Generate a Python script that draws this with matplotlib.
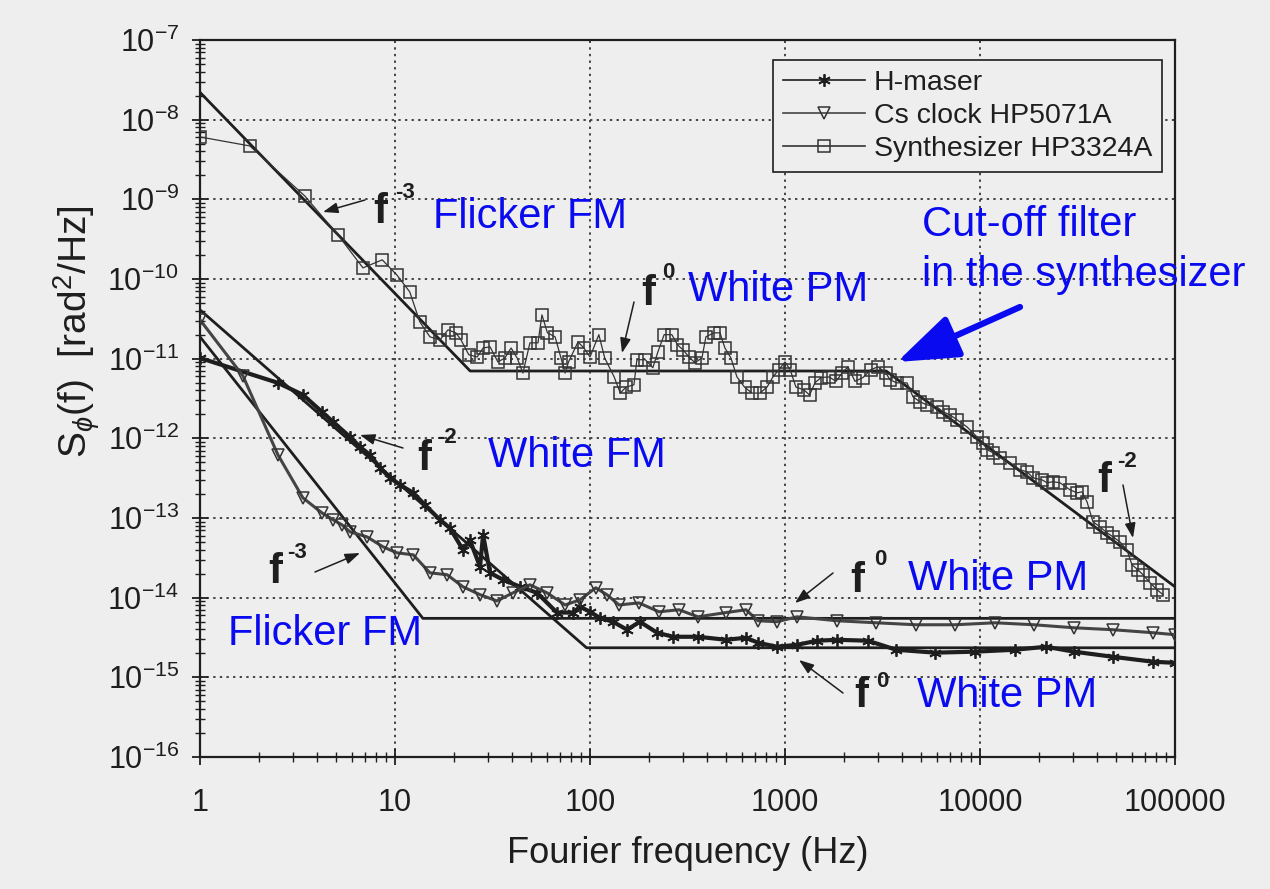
import matplotlib
matplotlib.use("Agg")
import matplotlib.pyplot as plt
from matplotlib.ticker import LogLocator, FixedLocator, FixedFormatter, NullFormatter

plt.rcParams['font.family'] = ['Liberation Sans', 'DejaVu Sans']
plt.rcParams['mathtext.fontset'] = 'custom'
plt.rcParams['mathtext.rm'] = 'Liberation Sans'
plt.rcParams['mathtext.it'] = 'Liberation Sans:italic'
plt.rcParams['mathtext.bf'] = 'Liberation Sans:bold'
plt.rcParams['axes.unicode_minus'] = False

# ---------------- data ----------------
hm_f = [1, 2.51, 3.37, 4.22, 4.81, 5.88, 6.62, 7.44, 8.38, 9.43, 10.6, 12.4, 14.2, 17.0,
        19.1, 22.3, 24.2, 27.3, 28.3, 30.7, 35.8, 43.8, 53.5, 67.7, 81.8, 88.9, 100, 112,
        131, 155, 180, 221, 267, 358, 498, 631, 727, 910, 1153, 1459, 1849, 2667, 3710,
        5876, 9419, 15100, 21800, 30300, 48100, 77100, 100000]
hm_s = [1.02e-11, 4.97e-12, 3.52e-12, 2.15e-12, 1.61e-12, 1.04e-12, 7.8e-13, 6.2e-13,
        4.27e-13, 3.19e-13, 2.61e-13, 2.07e-13, 1.47e-13, 9.5e-14, 7.5e-14, 4.0e-14,
        5.3e-14, 2.44e-14, 6.2e-14, 2.05e-14, 1.68e-14, 1.37e-14, 1.15e-14, 6.5e-15,
        6.5e-15, 7.7e-15, 6.65e-15, 5.6e-15, 4.99e-15, 3.96e-15, 4.99e-15, 3.63e-15,
        3.23e-15, 3.23e-15, 2.96e-15, 3.14e-15, 2.72e-15, 2.42e-15, 2.56e-15, 2.88e-15,
        2.96e-15, 2.88e-15, 2.22e-15, 2.04e-15, 2.1e-15, 2.22e-15, 2.42e-15, 2.1e-15,
        1.81e-15, 1.57e-15, 1.52e-15]

cs_f = [1, 1.66, 2.51, 3.37, 4.22, 4.81, 5.35, 5.88, 7.18, 8.68, 10.2, 12.4, 15.1, 18.5,
        22.3, 27.3, 33.3, 40.3, 49.2, 60.2, 74.5, 88.9, 107, 122, 141, 178, 226, 286,
        358, 498, 631, 727, 910, 1153, 1849, 2930, 4700, 7450, 11940, 18900, 30300,
        48100, 77100, 100000]
cs_s = [3.07e-11, 6.08e-12, 6.2e-13, 1.79e-13, 1.16e-13, 9.5e-14, 8.2e-14, 6.7e-14,
        5.8e-14, 4.35e-14, 3.66e-14, 3.45e-14, 2.05e-14, 1.94e-14, 1.37e-14, 1.09e-14,
        9.1e-15, 1.15e-14, 1.45e-14, 1.15e-14, 8.1e-15, 9.4e-15, 1.33e-14, 1.09e-14,
        8.1e-15, 8.6e-15, 6.65e-15, 7.05e-15, 5.75e-15, 6.5e-15, 7.05e-15, 5.13e-15,
        4.99e-15, 5.75e-15, 5.13e-15, 4.84e-15, 4.57e-15, 4.57e-15, 4.84e-15, 4.57e-15,
        4.19e-15, 3.96e-15, 3.63e-15, 3.43e-15]

sy_f = [1, 1.8, 3.45, 5.1, 6.85, 8.6, 10.2, 11.9, 13.4, 15.1, 17.0, 18.7, 20.5, 21.8,
        23.9, 26.4, 28.3, 30.7, 33.7, 36.6, 39.4, 42.3, 45.3, 49.2, 54.1, 56.7, 60.5,
        66.2, 71, 74.5, 77.6, 86.8, 93.1, 100, 111, 119, 133, 143, 153, 168, 174, 192,
        210, 223, 240, 263, 281, 300, 322, 345, 375, 393, 432, 464, 492, 528, 567, 620,
        677, 744, 809, 867, 931, 1000, 1062, 1138, 1250, 1336, 1426, 1531, 1682, 1828,
        1960, 2104, 2285, 2513, 2761, 3000, 3297, 3454, 3750, 4223, 4533, 4924, 5350,
        6016, 6457, 7015, 7620, 8579, 9660, 10360, 10860, 11660, 12670, 14260, 16040,
        17420, 18700, 20800, 22080, 23670, 25700, 28940, 31420, 33340, 35380, 37950,
        41220, 44770, 48060, 52190, 56680, 60150, 64570, 68520, 74420, 80830, 86750]
sy_s = [6.07e-9, 4.68e-9, 1.1e-9, 3.57e-10, 1.38e-10, 1.74e-10, 1.13e-10, 6.9e-11,
        2.9e-11, 1.88e-11, 1.72e-11, 2.3e-11, 2.11e-11, 1.72e-11, 1.12e-11, 1.05e-11,
        1.36e-11, 1.41e-11, 9.1e-12, 1.02e-11, 1.36e-11, 1.02e-11, 6.6e-12, 1.58e-11,
        1.58e-11, 3.55e-11, 2.11e-11, 1.88e-11, 1.02e-11, 6.6e-12, 9.1e-12, 1.62e-11,
        1.36e-11, 1.05e-11, 2.0e-11, 1.02e-11, 5.9e-12, 3.7e-12, 4.4e-12, 4.7e-12,
        9.7e-12, 9.7e-12, 7.7e-12, 1.22e-11, 2.0e-11, 2.0e-11, 1.49e-11, 1.29e-11,
        1.05e-11, 8.9e-12, 1.02e-11, 1.88e-11, 2.11e-11, 2.11e-11, 1.36e-11, 1.02e-11,
        5.9e-12, 4.4e-12, 3.7e-12, 3.7e-12, 4.4e-12, 5.9e-12, 7.3e-12, 9.1e-12, 7.3e-12,
        4.4e-12, 4.06e-12, 3.5e-12, 5.0e-12, 5.8e-12, 5.9e-12, 5.2e-12, 6.6e-12, 7.9e-12,
        5.2e-12, 5.8e-12, 7.3e-12, 7.9e-12, 6.6e-12, 5.42e-12, 4.97e-12, 4.97e-12,
        3.32e-12, 2.87e-12, 2.63e-12, 2.48e-12, 2.15e-12, 1.97e-12, 1.71e-12, 1.39e-12,
        1.04e-12, 8.8e-13, 7.2e-13, 6.6e-13, 5.7e-13, 4.93e-13, 4.03e-13, 3.8e-13,
        3.19e-13, 3.01e-13, 2.77e-13, 2.85e-13, 2.77e-13, 2.26e-13, 2.07e-13, 2.13e-13,
        1.6e-13, 8.95e-14, 7.76e-14, 6.52e-14, 5.81e-14, 5.02e-14, 3.99e-14, 2.59e-14,
        2.24e-14, 1.94e-14, 1.54e-14, 1.26e-14, 1.09e-14]

# model (fit) lines: corner points
hm_fit_f = [1, 96, 100000]
hm_fit_s = [4.1e-11, 2.35e-15, 2.35e-15]
cs_fit_f = [1, 13.9, 100000]
cs_fit_s = [1.88e-11, 5.5e-15, 5.5e-15]
sy_fit_f = [1, 24.3, 3300, 100000]
sy_fit_s = [2.2e-8, 7.0e-12, 7.0e-12, 1.37e-14]

x_ticks = [1, 10, 100, 1000, 10000, 100000]
x_labels = ['1', '10', '100', '1000', '10000', '100000']
series_names = ['H-maser', 'Cs clock HP5071A', 'Synthesizer HP3324A']

# ---------------- figure ----------------
W, H = 1270, 889
BG = '#eeeeee'
INK = '#1e1e1e'
BLUE = '#0a0af0'

fig = plt.figure(figsize=(W / 100, H / 100), dpi=100, facecolor=BG)
ax = fig.add_axes([200 / W, 1 - 757 / H, 975 / W, 717 / H], facecolor=BG)
ax.set_xscale('log')
ax.set_yscale('log')
ax.set_xlim(1, 1e5)
ax.set_ylim(1e-16, 1e-7)

# fits
for ff, ss in [(hm_fit_f, hm_fit_s), (cs_fit_f, cs_fit_s), (sy_fit_f, sy_fit_s)]:
    ax.plot(ff, ss, color=INK, lw=2.0, zorder=3)

# data
l1, = ax.plot(hm_f, hm_s, color=INK, lw=3.0, marker=(6, 2, 0), ms=9, mew=1.3,
              mec=INK, zorder=4)
l2, = ax.plot(cs_f, cs_s, color='#444444', lw=2.2, marker='v', ms=8, mew=1.1,
              mfc='none', mec='#333333', zorder=4)
l3, = ax.plot(sy_f, sy_s, color='#333333', lw=0.9, marker='s', ms=8.5, mew=1.1,
              mfc='none', mec='#333333', zorder=4)

# grid & ticks
ax.grid(True, which='major', color='#444444', ls=(0, (1.2, 2.2)), lw=1.4)
ax.xaxis.set_major_locator(FixedLocator(x_ticks))
ax.xaxis.set_major_formatter(FixedFormatter(x_labels))
ax.xaxis.set_minor_locator(LogLocator(base=10, subs=range(2, 10), numticks=20))
ax.xaxis.set_minor_formatter(NullFormatter())
ax.yaxis.set_major_locator(LogLocator(base=10, numticks=20))
ax.yaxis.set_minor_locator(LogLocator(base=10, subs=range(2, 10), numticks=20))
ax.yaxis.set_minor_formatter(NullFormatter())
ax.tick_params(which='major', direction='inout', length=12, width=1.3, color=INK,
               labelsize=22, labelcolor=INK, pad=16)
ax.tick_params(axis='y', which='major', pad=9)
ax.tick_params(which='minor', direction='inout', length=7, width=1.0, color=INK)
for sp in ax.spines.values():
    sp.set_linewidth(1.6)
    sp.set_color(INK)

ax.set_xlabel('Fourier frequency (Hz)', fontsize=26, color=INK, labelpad=13)
ax.set_ylabel(r'S$_\phi$(f)  [rad$^2$/Hz]', fontsize=28, color=INK)
ax.yaxis.set_label_coords(-0.1, 0.593)

# legend
leg = ax.legend([l1, l2, l3], series_names, loc='upper right',
                bbox_to_anchor=(1162 / W, 1 - 60 / H), bbox_transform=fig.transFigure,
                fontsize=20.5, frameon=True, fancybox=False, framealpha=1,
                facecolor=BG, edgecolor=INK, handlelength=2.9, handletextpad=0.3,
                labelspacing=0.25, borderpad=0.35, borderaxespad=0)
leg.get_frame().set_linewidth(1.2)
for t in leg.get_texts():
    t.set_color(INK)
for h in leg.legend_handles:
    h.set_linewidth(1.2)


def fp(x, y):
    return (x, H - y)


# blue region labels (left x, baseline y in pixels)
blue_labels = [(433, 228, 'Flicker FM'), (688, 301, 'White PM'),
               (922, 236, 'Cut-off filter'), (922, 286, 'in the synthesizer'),
               (488, 467, 'White FM'), (908, 590, 'White PM'),
               (228, 645, 'Flicker FM'), (917, 707, 'White PM')]
for x, y, s in blue_labels:
    fig.text(x / W, 1 - y / H, s, color=BLUE, fontsize=30, ha='left', va='baseline')

# slope labels: f with superscript
slope_labels = [(373, 223, 395, 198, '-3'), (641, 305, 662, 278, '0'),
                (417, 470, 437, 443, '-2'), (268, 583, 287, 558, '-3'),
                (1097, 492, 1117, 467, '-2'), (850, 592, 874, 565, '0'),
                (854, 707, 876, 687, '0')]
for fx, fy, sx, sy, s in slope_labels:
    fig.text(fx / W, 1 - fy / H, 'f', color=INK, fontsize=30, fontweight='bold',
             ha='left', va='baseline')
    fig.text(sx / W, 1 - sy / H, s, color=INK, fontsize=16, fontweight='bold',
             ha='left', va='baseline')

# black arrows (tail -> head)
arrows = [((365, 200), (323, 212)), ((634, 302), (622, 353)), ((403, 448), (360, 435)),
          ((315, 572), (360, 553)), ((1123, 485), (1133, 538)), ((833, 573), (795, 603)),
          ((843, 693), (799, 660))]
for tail, head in arrows:
    ax.annotate('', xy=fp(*head), xytext=fp(*tail), xycoords='figure pixels',
                textcoords='figure pixels', annotation_clip=False,
                arrowprops=dict(arrowstyle='-|>,head_length=0.5,head_width=0.18',
                                mutation_scale=18, lw=1.1, color=INK,
                                shrinkA=0, shrinkB=0))

# blue arrow
ax.annotate('', xy=fp(897, 362), xytext=fp(1020, 307), xycoords='figure pixels',
            textcoords='figure pixels', annotation_clip=False,
            arrowprops=dict(arrowstyle='-|>,head_length=1.25,head_width=0.45',
                            mutation_scale=30, lw=4.5, color=BLUE,
                            shrinkA=0, shrinkB=0))

fig.savefig('out.png', dpi=100, facecolor=BG)
